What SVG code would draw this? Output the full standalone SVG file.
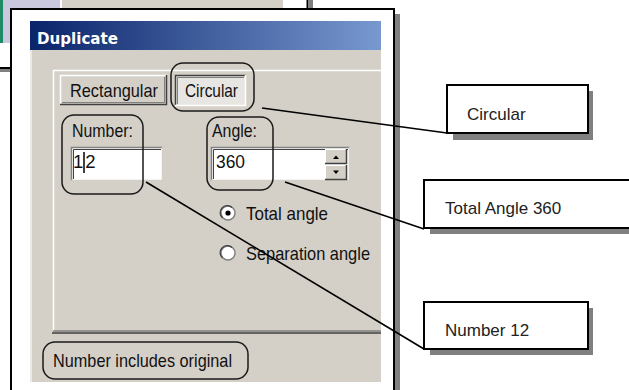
<svg xmlns="http://www.w3.org/2000/svg" width="629" height="390" viewBox="0 0 629 390">
<style>
.ui{font-family:"Liberation Sans",Arial,sans-serif;font-size:18.5px;fill:#111}
.call{font-family:"Liberation Sans",Arial,sans-serif;font-size:17px;fill:#222}
.ann{fill:none;stroke:#1a1a1a;stroke-width:1.5}
.box{fill:#fff;stroke:#000;stroke-width:2}
.shadow{fill:#808080}
.conn{stroke:#000;stroke-width:1.6;fill:none}
</style>
<defs>
<linearGradient id="tb" x1="0" y1="0" x2="1" y2="0">
<stop offset="0" stop-color="#0a246a"/>
<stop offset="1" stop-color="#7898d0"/>
</linearGradient>
</defs>
<rect width="629" height="390" fill="#fff"/>
<!-- background screenshot -->
<g id="background">
<rect x="0" y="0" width="3" height="43" fill="#1f8a66"/>
<rect x="3" y="0" width="57" height="43" fill="#c9c8de"/>
<rect x="62" y="0" width="221" height="12" fill="#d4d0c8"/>
<line x1="307.5" y1="0" x2="307.5" y2="10" stroke="#000" stroke-width="2"/>
<rect x="309" y="0" width="4" height="12" fill="#808080"/>
<line x1="0" y1="68" x2="12" y2="68" stroke="#000" stroke-width="2"/>
<rect x="0" y="69" width="12" height="3" fill="#808080"/>
</g>
<!-- main frame -->
<g id="frame">
<rect x="395" y="14" width="5" height="380" fill="#808080"/>
<rect x="11" y="9" width="383" height="390" fill="#fff" stroke="#000" stroke-width="2"/>
<rect x="30" y="21" width="351" height="361" fill="#d4d0c8"/>
<rect x="30" y="21" width="2" height="361" fill="#ece9e4"/>
<rect x="30" y="21" width="351" height="29" fill="url(#tb)"/>
<text x="37" y="44" font-family="'DejaVu Sans',Verdana,sans-serif" font-weight="bold" font-size="16" fill="#fff" textLength="81" lengthAdjust="spacingAndGlyphs">Duplicate</text>
<!-- tab panel -->
<polyline points="53.5,331 53.5,70.5 381,70.5" fill="none" stroke="#fff" stroke-width="1.5"/>
<line x1="53" y1="331" x2="381" y2="331" stroke="#808080" stroke-width="1.5"/>
<line x1="52" y1="333" x2="381" y2="333" stroke="#404040" stroke-width="1.5"/>
</g>
<g id="tab-rectangular">
<rect x="60" y="75" width="107" height="30" fill="#d4d0c8"/>
<polyline points="60.5,105 60.5,75.5 167,75.5" fill="none" stroke="#fff" stroke-width="1.5"/>
<polyline points="60,104.5 166.5,104.5 166.5,75" fill="none" stroke="#404040" stroke-width="1.5"/>
<polyline points="62,102.5 164.5,102.5 164.5,77" fill="none" stroke="#808080" stroke-width="1"/>
<text class="ui" x="70" y="97" textLength="88" lengthAdjust="spacingAndGlyphs">Rectangular</text>
</g>
<g id="tab-circular">
<rect x="175" y="75" width="71" height="31" fill="#e8e6e2"/>
<polyline points="175.5,106 175.5,75.5 246,75.5" fill="none" stroke="#404040" stroke-width="1.5"/>
<polyline points="177.5,104 177.5,77.5 244,77.5" fill="none" stroke="#808080" stroke-width="1"/>
<polyline points="175,105.5 245.5,105.5 245.5,75" fill="none" stroke="#fff" stroke-width="1.5"/>
<text class="ui" x="185" y="97" textLength="53" lengthAdjust="spacingAndGlyphs">Circular</text>
</g>
<g id="number-field">
<text class="ui" x="72" y="137" textLength="61" lengthAdjust="spacingAndGlyphs">Number:</text>
<rect x="71" y="147" width="92" height="34" fill="#fff"/>
<polyline points="71.5,181 71.5,147.5 163,147.5" fill="none" stroke="#808080" stroke-width="1.5"/>
<polyline points="73.5,179 73.5,149.5 161,149.5" fill="none" stroke="#404040" stroke-width="1"/>
<polyline points="71,180.5 162.5,180.5 162.5,147" fill="none" stroke="#d4d0c8" stroke-width="1.5"/>
<text class="ui" x="73" y="168" font-size="19">1<tspan dx="2">2</tspan></text>
<line x1="84" y1="152" x2="84" y2="173" stroke="#000" stroke-width="1.5"/>
</g>
<g id="angle-field">
<text class="ui" x="212" y="137" textLength="45" lengthAdjust="spacingAndGlyphs">Angle:</text>
<rect x="211" y="147" width="139" height="34" fill="#fff"/>
<polyline points="211.5,181 211.5,147.5 350,147.5" fill="none" stroke="#808080" stroke-width="1.5"/>
<polyline points="213.5,179 213.5,149.5 348,149.5" fill="none" stroke="#404040" stroke-width="1"/>
<polyline points="211,180.5 349.5,180.5 349.5,147" fill="none" stroke="#d4d0c8" stroke-width="1.5"/>
<text class="ui" x="216" y="168" textLength="29" lengthAdjust="spacingAndGlyphs" font-size="19">360</text>
<rect x="325" y="149" width="22" height="15" fill="#d4d0c8"/>
<polyline points="325.5,164 325.5,149.5 347,149.5" fill="none" stroke="#fff" stroke-width="1"/>
<polyline points="325,163.5 346.5,163.5 346.5,149" fill="none" stroke="#404040" stroke-width="1.5"/>
<polygon points="333,159 339,159 336,155.5" fill="#000"/>
<rect x="325" y="165" width="22" height="15" fill="#d4d0c8"/>
<polyline points="325.5,180 325.5,165.5 347,165.5" fill="none" stroke="#fff" stroke-width="1"/>
<polyline points="325,179.5 346.5,179.5 346.5,165" fill="none" stroke="#404040" stroke-width="1.5"/>
<polygon points="333,170.5 339,170.5 336,174" fill="#000"/>
</g>
<g id="radio-total">
<circle cx="228" cy="213" r="7" fill="#fff" stroke="#808080" stroke-width="1.5"/>
<path d="M222.5,218 A7,7 0 0 1 232,207.5" fill="none" stroke="#404040" stroke-width="1.2"/>
<circle cx="228" cy="213" r="2.6" fill="#000"/>
<text class="ui" x="246" y="220" textLength="82" lengthAdjust="spacingAndGlyphs">Total angle</text>
</g>
<g id="radio-separation">
<circle cx="228" cy="253" r="7" fill="#fff" stroke="#808080" stroke-width="1.5"/>
<path d="M222.5,258 A7,7 0 0 1 232,247.5" fill="none" stroke="#404040" stroke-width="1.2"/>
<text class="ui" x="246" y="260" textLength="124" lengthAdjust="spacingAndGlyphs">Separation angle</text>
</g>
<g id="includes-original">
<text class="ui" x="53" y="367" textLength="179" lengthAdjust="spacingAndGlyphs">Number includes original</text>
</g>
<!-- highlight annotations -->
<g id="annotations">
<rect class="ann" x="171" y="63" width="83" height="48" rx="12"/>
<rect class="ann" x="62" y="115" width="81" height="79" rx="12"/>
<rect class="ann" x="207" y="117" width="66" height="73" rx="12"/>
<rect class="ann" x="43" y="342" width="205" height="37" rx="12"/>
</g>
<!-- connectors -->
<g id="connectors">
<line class="conn" x1="262" y1="108" x2="447" y2="133"/>
<line class="conn" x1="285" y1="182" x2="424" y2="229"/>
<line class="conn" x1="146" y1="182" x2="424" y2="349"/>
</g>
<g id="callout-circular">
<rect class="shadow" x="453" y="91" width="140" height="49"/>
<rect class="box" x="447" y="85" width="141" height="48"/>
<text class="call" x="467" y="120">Circular</text>
</g>
<g id="callout-total-angle">
<rect class="shadow" x="430" y="186" width="210" height="48"/>
<rect class="box" x="424" y="180" width="216" height="48"/>
<text class="call" x="445" y="214">Total Angle 360</text>
</g>
<g id="callout-number">
<rect class="shadow" x="430" y="308" width="163" height="47"/>
<rect class="box" x="424" y="302" width="164" height="47"/>
<text class="call" x="445" y="336">Number 12</text>
</g>
</svg>
